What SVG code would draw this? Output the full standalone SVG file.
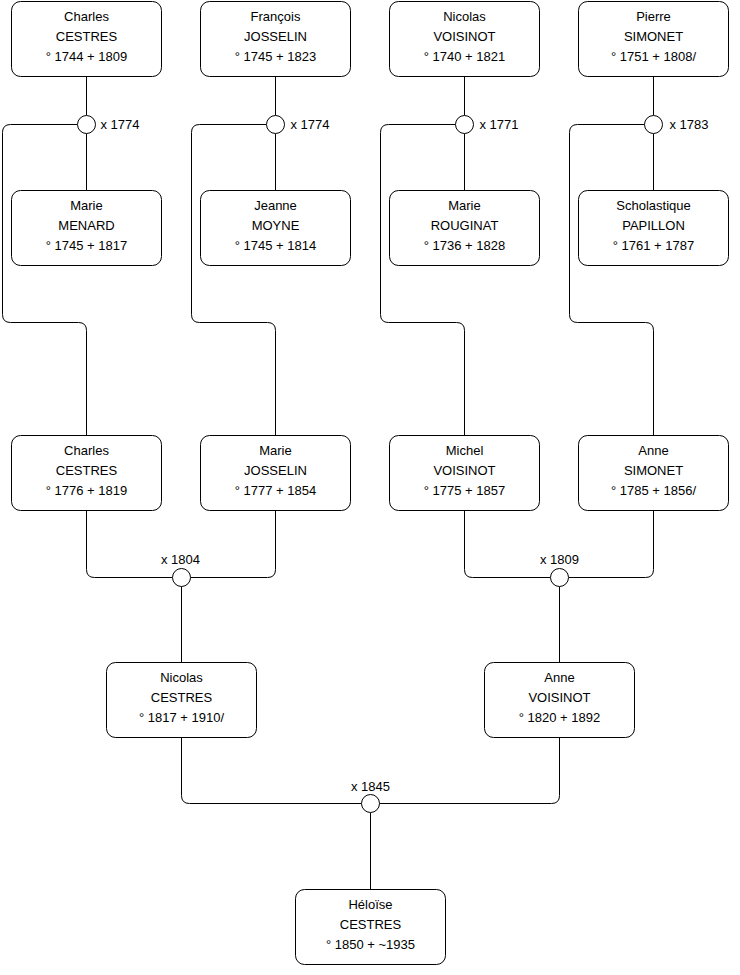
<svg xmlns="http://www.w3.org/2000/svg" width="740" height="975" viewBox="0 0 740 975">
<style>
.box{fill:#fff;stroke:#000;stroke-width:1}
.c{fill:#fff;stroke:#000;stroke-width:1}
.ln{fill:none;stroke:#000;stroke-width:1}
text{font-family:"Liberation Sans",Arial,sans-serif;font-size:13px;fill:#000}
.m{text-anchor:middle}
</style>
<rect width="740" height="975" fill="#fff"/>
<g transform="translate(0.5,0.5)">
<g id="connectors">
<path class="ln" d="M86,76V115M86,133V190M77,124H10Q2,124 2,132V314Q2,322 10,322H78Q86,322 86,330V435"/>
<path class="ln" d="M275,76V115M275,133V190M266,124H199Q191,124 191,132V314Q191,322 199,322H267Q275,322 275,330V435"/>
<path class="ln" d="M464,76V115M464,133V190M455,124H388Q380,124 380,132V314Q380,322 388,322H456Q464,322 464,330V435"/>
<path class="ln" d="M653,76V115M653,133V190M644,124H577Q569,124 569,132V314Q569,322 577,322H645Q653,322 653,330V435"/>
<path class="ln" d="M86,510V569Q86,577 94,577H172M275,510V569Q275,577 267,577H190M181,586V662"/>
<path class="ln" d="M464,510V569Q464,577 472,577H550M653,510V569Q653,577 645,577H568M559,586V662"/>
<path class="ln" d="M181,737V795Q181,803 189,803H361M559,737V795Q559,803 551,803H379M370,812V889"/>
</g>
<g id="u1"><circle class="c" cx="86" cy="124" r="9"/><text x="100" y="128">x 1774</text></g>
<g id="u2"><circle class="c" cx="275" cy="124" r="9"/><text x="290" y="128">x 1774</text></g>
<g id="u3"><circle class="c" cx="464" cy="124" r="9"/><text x="479" y="128">x 1771</text></g>
<g id="u4"><circle class="c" cx="653" cy="124" r="9"/><text x="669" y="128">x 1783</text></g>
<g id="u5"><circle class="c" cx="181" cy="577" r="9"/><text class="m" x="180" y="563">x 1804</text></g>
<g id="u6"><circle class="c" cx="559" cy="577" r="9"/><text class="m" x="559" y="563">x 1809</text></g>
<g id="u7"><circle class="c" cx="370" cy="803" r="9"/><text class="m" x="370" y="790">x 1845</text></g>

<g id="p1"><rect class="box" x="11" y="1" width="150" height="75" rx="9"/><text class="m" x="86" y="20">Charles</text><text class="m" x="86" y="40">CESTRES</text><text class="m" x="86" y="60">° 1744 + 1809</text></g>
<g id="p2"><rect class="box" x="200" y="1" width="150" height="75" rx="9"/><text class="m" x="275" y="20">François</text><text class="m" x="275" y="40">JOSSELIN</text><text class="m" x="275" y="60">° 1745 + 1823</text></g>
<g id="p3"><rect class="box" x="389" y="1" width="150" height="75" rx="9"/><text class="m" x="464" y="20">Nicolas</text><text class="m" x="464" y="40">VOISINOT</text><text class="m" x="464" y="60">° 1740 + 1821</text></g>
<g id="p4"><rect class="box" x="578" y="1" width="150" height="75" rx="9"/><text class="m" x="653" y="20">Pierre</text><text class="m" x="653" y="40">SIMONET</text><text class="m" x="653" y="60">° 1751 + 1808/</text></g>

<g id="p5"><rect class="box" x="11" y="190" width="150" height="75" rx="9"/><text class="m" x="86" y="209">Marie</text><text class="m" x="86" y="229">MENARD</text><text class="m" x="86" y="249">° 1745 + 1817</text></g>
<g id="p6"><rect class="box" x="200" y="190" width="150" height="75" rx="9"/><text class="m" x="275" y="209">Jeanne</text><text class="m" x="275" y="229">MOYNE</text><text class="m" x="275" y="249">° 1745 + 1814</text></g>
<g id="p7"><rect class="box" x="389" y="190" width="150" height="75" rx="9"/><text class="m" x="464" y="209">Marie</text><text class="m" x="464" y="229">ROUGINAT</text><text class="m" x="464" y="249">° 1736 + 1828</text></g>
<g id="p8"><rect class="box" x="578" y="190" width="150" height="75" rx="9"/><text class="m" x="653" y="209">Scholastique</text><text class="m" x="653" y="229">PAPILLON</text><text class="m" x="653" y="249">° 1761 + 1787</text></g>

<g id="p9"><rect class="box" x="11" y="435" width="150" height="75" rx="9"/><text class="m" x="86" y="454">Charles</text><text class="m" x="86" y="474">CESTRES</text><text class="m" x="86" y="494">° 1776 + 1819</text></g>
<g id="p10"><rect class="box" x="200" y="435" width="150" height="75" rx="9"/><text class="m" x="275" y="454">Marie</text><text class="m" x="275" y="474">JOSSELIN</text><text class="m" x="275" y="494">° 1777 + 1854</text></g>
<g id="p11"><rect class="box" x="389" y="435" width="150" height="75" rx="9"/><text class="m" x="464" y="454">Michel</text><text class="m" x="464" y="474">VOISINOT</text><text class="m" x="464" y="494">° 1775 + 1857</text></g>
<g id="p12"><rect class="box" x="578" y="435" width="150" height="75" rx="9"/><text class="m" x="653" y="454">Anne</text><text class="m" x="653" y="474">SIMONET</text><text class="m" x="653" y="494">° 1785 + 1856/</text></g>

<g id="p13"><rect class="box" x="106" y="662" width="150" height="75" rx="9"/><text class="m" x="181" y="681">Nicolas</text><text class="m" x="181" y="701">CESTRES</text><text class="m" x="181" y="721">° 1817 + 1910/</text></g>
<g id="p14"><rect class="box" x="484" y="662" width="150" height="75" rx="9"/><text class="m" x="559" y="681">Anne</text><text class="m" x="559" y="701">VOISINOT</text><text class="m" x="559" y="721">° 1820 + 1892</text></g>

<g id="p15"><rect class="box" x="295" y="889" width="150" height="75" rx="9"/><text class="m" x="370" y="908">Héloïse</text><text class="m" x="370" y="928">CESTRES</text><text class="m" x="370" y="948">° 1850 + ~1935</text></g>
</g>
</svg>
